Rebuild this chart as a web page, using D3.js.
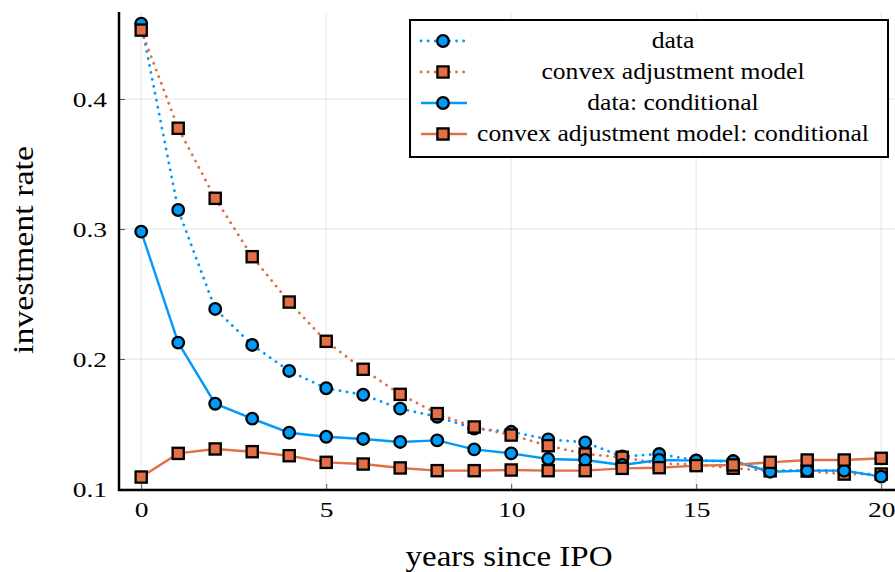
<!DOCTYPE html>
<html>
<head>
<meta charset="utf-8">
<script src="https://cdn.jsdelivr.net/npm/d3@7"></script>
<style>
  html, body { margin: 0; padding: 0; background: #fff; }
  svg { display: block; }
  text { font-family: "Liberation Serif", "DejaVu Serif", serif; fill: #000; }
</style>
</head>
<body>
<svg id="chart" width="895" height="572"></svg>
<script>
// Years since IPO
const years = d3.range(0, 21);

// Unconditional investment rates
const dataRate = [0.458, 0.3146, 0.2385, 0.2108, 0.1908, 0.1775, 0.1725, 0.1618, 0.1556, 0.1465,
                  0.144, 0.1382, 0.1359, 0.125, 0.1269, 0.122, 0.121, 0.114, 0.1145, 0.114, 0.110];
const modelRate = [0.453, 0.3775, 0.3236, 0.2787, 0.2438, 0.2136, 0.1921, 0.1728, 0.158, 0.1477,
                   0.1415, 0.1333, 0.1269, 0.1244, 0.1195, 0.119, 0.116, 0.114, 0.1138, 0.1115, 0.1115];

// Conditional investment rates
const dataCond = [0.298, 0.2126, 0.1656, 0.1541, 0.1433, 0.1402, 0.1385, 0.1362, 0.1374, 0.1305,
                  0.1274, 0.1231, 0.1223, 0.1185, 0.1223, 0.1218, 0.1215, 0.1133, 0.1141, 0.1141, 0.1095];
const modelCond = [0.1092, 0.1274, 0.1308, 0.1287, 0.1256, 0.1205, 0.1192, 0.1162, 0.1141, 0.1141,
                   0.1146, 0.1141, 0.1141, 0.1159, 0.1164, 0.118, 0.1185, 0.1205, 0.1223, 0.1223, 0.1236];

const xTicks = [0, 5, 10, 15, 20];
const yTicks = [0.1, 0.2, 0.3, 0.4];

const seriesNames = ["data", "convex adjustment model", "data: conditional", "convex adjustment model: conditional"];

const BLUE = "#009af9", ORANGE = "#e26f46";

const series = [
  { name: seriesNames[0], values: dataRate,  color: BLUE,   marker: "circle", dotted: true },
  { name: seriesNames[1], values: modelRate, color: ORANGE, marker: "square", dotted: true },
  { name: seriesNames[2], values: dataCond,  color: BLUE,   marker: "circle", dotted: false },
  { name: seriesNames[3], values: modelCond, color: ORANGE, marker: "square", dotted: false }
];

const svg = d3.select("#chart");

// plot area (extends a bit past the right side of the canvas)
const plotLeft = 119, plotBottom = 490, plotTop = 12;
const x = d3.scaleLinear().domain([-0.6, 20.6]).range([plotLeft, plotLeft + 21.2 * 37]);
const y = d3.scaleLinear().domain([0.1, 0.4]).range([489, 99]);

const plot = svg.append("g");

// grid
plot.append("g").selectAll("line").data(xTicks).join("line")
  .attr("x1", d => x(d)).attr("x2", d => x(d))
  .attr("y1", plotTop).attr("y2", plotBottom)
  .attr("stroke", "#000").attr("stroke-opacity", 0.1).attr("stroke-width", 1);
plot.append("g").selectAll("line").data(yTicks).join("line")
  .attr("x1", plotLeft).attr("x2", 895)
  .attr("y1", d => y(d)).attr("y2", d => y(d))
  .attr("stroke", "#000").attr("stroke-opacity", 0.1).attr("stroke-width", 1);

// axes (serif labels widened a little to get the Computer Modern proportions)
const TICK_SX = 1.25;
const xAxis = d3.axisBottom(x).tickValues(xTicks).tickSize(-6).tickPadding(11).tickFormat(d3.format("d"));
const yAxis = d3.axisLeft(y).tickValues(yTicks).tickSize(-6).tickPadding(10).tickFormat(d3.format(".1f"));

const gx = svg.append("g").attr("transform", `translate(0,${plotBottom})`).call(xAxis);
gx.select(".domain").remove();
gx.selectAll(".tick line").attr("stroke", "#555").attr("stroke-width", 1);
gx.selectAll(".tick text").attr("font-size", 22).attr("font-family", "Liberation Serif").attr("fill", "#000")
  .attr("transform", `scale(${TICK_SX},1)`);

const gy = svg.append("g").attr("transform", `translate(${plotLeft},0)`).call(yAxis);
gy.select(".domain").remove();
gy.selectAll(".tick line").attr("stroke", "#555").attr("stroke-width", 1);
gy.selectAll(".tick text").attr("font-size", 22).attr("font-family", "Liberation Serif").attr("fill", "#000")
  .attr("x", -12 / TICK_SX).attr("dy", "0.34em")
  .attr("transform", `scale(${TICK_SX},1)`);

svg.append("line").attr("x1", plotLeft).attr("x2", plotLeft).attr("y1", plotTop).attr("y2", plotBottom + 1)
  .attr("stroke", "#000").attr("stroke-width", 2.5);
svg.append("line").attr("x1", plotLeft - 1).attr("x2", 895).attr("y1", plotBottom).attr("y2", plotBottom)
  .attr("stroke", "#000").attr("stroke-width", 2.5);

// series
const line = d3.line().x((d, i) => x(years[i])).y(d => y(d));

function drawMarker(g, type, color, cx, cy) {
  if (type === "circle") {
    g.append("circle").attr("cx", cx).attr("cy", cy).attr("r", 5.8)
      .attr("fill", color).attr("stroke", "#000").attr("stroke-width", 2.3);
  } else {
    g.append("rect").attr("x", cx - 5.6).attr("y", cy - 5.6).attr("width", 11.2).attr("height", 11.2)
      .attr("fill", color).attr("stroke", "#000").attr("stroke-width", 2.3);
  }
}

series.forEach(s => {
  const g = plot.append("g");
  g.append("path").datum(s.values).attr("d", line)
    .attr("fill", "none").attr("stroke", s.color)
    .attr("stroke-width", s.dotted ? 2.8 : 2.4)
    .attr("stroke-dasharray", s.dotted ? "0.1 7" : null)
    .attr("stroke-linecap", s.dotted ? "round" : "butt");
  s.values.forEach((v, i) => drawMarker(g, s.marker, s.color, x(years[i]), y(v)));
});

// stretched text helper
function label(parent, tx, ty, rot, sx, size, anchor, str) {
  return parent.append("text")
    .attr("transform", `translate(${tx},${ty}) rotate(${rot}) scale(${sx},1)`)
    .attr("text-anchor", anchor).attr("font-size", size).text(str);
}

// legend
const lg = svg.append("g");
lg.append("rect").attr("x", 410).attr("y", 20).attr("width", 478).attr("height", 137)
  .attr("fill", "#fff").attr("stroke", "#000").attr("stroke-width", 2);
series.forEach((s, i) => {
  const cy = 41 + i * 31;
  lg.append("line").attr("x1", 421).attr("x2", 467).attr("y1", cy).attr("y2", cy)
    .attr("stroke", s.color).attr("stroke-width", s.dotted ? 2.8 : 2.4)
    .attr("stroke-dasharray", s.dotted ? "0.1 7" : null)
    .attr("stroke-linecap", s.dotted ? "round" : "butt");
  drawMarker(lg, s.marker, s.color, 443, cy);
  label(lg, 673, cy + 7, 0, 1.09, 23.5, "middle", s.name);
});

// axis titles
label(svg, 509, 566, 0, 1.1, 30, "middle", "years since IPO");
label(svg, 33, 250, -90, 1.13, 30, "middle", "investment rate");
</script>
</body>
</html>
